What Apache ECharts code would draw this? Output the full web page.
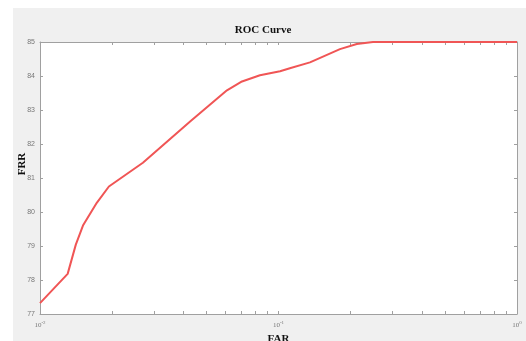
<!DOCTYPE html>
<html lang="en" style="height: 100%">
<head>
  <meta charset="utf-8">
  <title>ROC Curve</title>
</head>
<body style="height: 100%; margin: 0; background: #fff">
  <div id="container" style="width: 526px; height: 341px"></div>
  <script type="text/javascript" src="https://cdn.jsdelivr.net/npm/echarts@6/dist/echarts.min.js"></script>
  <script type="text/javascript">
    // FAR (log scale) vs FRR
    const far = [0.01, 0.01306, 0.01413, 0.01514, 0.0173, 0.01945, 0.027, 0.0426, 0.0608, 0.0703, 0.0836,
      0.1015, 0.1116, 0.1355, 0.181, 0.213, 0.249, 0.3, 0.5, 1];
    const frr = [77.32, 78.18, 79.04, 79.6, 80.27, 80.75, 81.45, 82.66, 83.58, 83.84, 84.02,
      84.14, 84.23, 84.4, 84.79, 84.94, 85, 85, 85, 85];
    const yTicks = [77, 78, 79, 80, 81, 82, 83, 84, 85];
    const xMajor = [0.01, 0.1, 1];
    const xMinor = [0.01, 0.02, 0.03, 0.04, 0.05, 0.06, 0.07, 0.08, 0.09, 0.1,
      0.2, 0.3, 0.4, 0.5, 0.6, 0.7, 0.8, 0.9, 1];

    var dom = document.getElementById('container');
    var myChart = echarts.init(dom, null, { renderer: 'canvas' });

    const axisColor = '#a0a0a0';
    const labelColor = '#777';
    const expOf = { 0.01: '-2', 0.1: '-1', 1: '0' };

    var option = {
      backgroundColor: '#fff',
      animation: false,
      graphic: [{
        type: 'rect',
        left: 13, top: 8,
        shape: { width: 513, height: 333 },
        style: { fill: '#f0f0f0' },
        z: -10
      }],
      title: {
        text: 'ROC Curve',
        left: 'center',
        top: 20,
        textStyle: { fontFamily: 'Liberation Serif', fontWeight: 'bold', fontSize: 11, color: '#111' }
      },
      grid: {
        left: 40, right: 9, top: 42, bottom: 27,
        outerBoundsMode: 'none',
        containLabel: false,
        show: true, backgroundColor: '#fff', borderWidth: 0
      },
      xAxis: [{
        type: 'log',
        logBase: 10,
        min: 0.01,
        max: 1,
        position: 'bottom',
        name: 'FAR',
        nameLocation: 'middle',
        nameGap: 10,
        nameTextStyle: { fontFamily: 'Liberation Serif', fontWeight: 'bold', fontSize: 11, color: '#111' },
        axisLine: { onZero: false, lineStyle: { color: axisColor, width: 1 } },
        axisTick: { inside: true, length: 3, customValues: xMinor, lineStyle: { color: axisColor } },
        axisLabel: {
          customValues: xMajor,
          margin: 6,
          formatter: function (v) {
            return '{b|10}{s|' + expOf[v] + '}';
          },
          rich: {
            b: { fontSize: 7, color: labelColor, fontFamily: 'Liberation Serif' },
            s: { fontSize: 5, color: labelColor, fontFamily: 'Liberation Serif', padding: [0, 0, 5, 0] }
          }
        },
        splitLine: { show: false }
      }, {
        type: 'log',
        logBase: 10,
        min: 0.01,
        max: 1,
        position: 'top',
        axisLine: { onZero: false, lineStyle: { color: axisColor, width: 1 } },
        axisTick: { inside: true, length: 3, customValues: xMinor, lineStyle: { color: axisColor } },
        axisLabel: { show: false },
        splitLine: { show: false }
      }],
      yAxis: [{
        type: 'value',
        min: 77,
        max: 85,
        interval: 1,
        position: 'left',
        name: 'FRR',
        nameLocation: 'middle',
        nameGap: 12,
        nameMoveOverlap: false,
        nameRotate: 90,
        nameTextStyle: {
          fontFamily: 'Liberation Serif', fontWeight: 'bold', fontSize: 11, color: '#111',
          padding: [0, 0, 0, 28]
        },
        axisLine: { show: true, onZero: false, lineStyle: { color: axisColor, width: 1 } },
        axisTick: { show: true, inside: true, length: 3, lineStyle: { color: axisColor } },
        axisLabel: {
          margin: 5,
          fontSize: 7,
          color: labelColor,
          fontFamily: 'Liberation Sans',
          formatter: function (v) { return yTicks.indexOf(v) >= 0 ? String(v) : ''; }
        },
        splitLine: { show: false }
      }, {
        type: 'value',
        min: 77,
        max: 85,
        interval: 1,
        position: 'right',
        axisLine: { show: true, onZero: false, lineStyle: { color: axisColor, width: 1 } },
        axisTick: { show: true, inside: true, length: 3, lineStyle: { color: axisColor } },
        axisLabel: { show: false },
        splitLine: { show: false }
      }],
      series: [{
        type: 'line',
        xAxisIndex: 0,
        yAxisIndex: 0,
        data: far.map(function (x, i) { return [x, frr[i]]; }),
        showSymbol: false,
        smooth: false,
        lineStyle: { color: '#f05555', width: 2 },
        z: 5
      }]
    };

    myChart.setOption(option);
    window.addEventListener('resize', myChart.resize);
  </script>
</body>
</html>
